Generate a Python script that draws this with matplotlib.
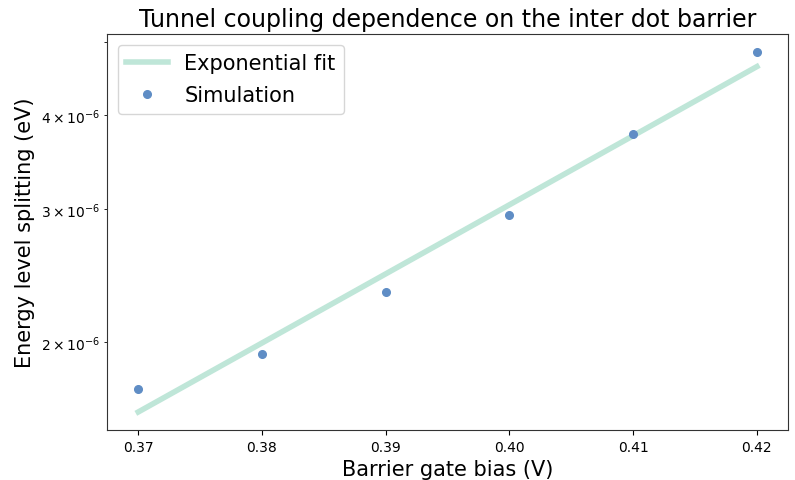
import matplotlib
matplotlib.use("Agg")
import matplotlib.pyplot as plt

bias = [0.37, 0.38, 0.39, 0.40, 0.41, 0.42]
splitting = [1.733e-6, 1.928e-6, 2.33e-6, 2.946e-6, 3.775e-6, 4.85e-6]
fit_values = [1.614e-6, 1.993e-6, 2.462e-6, 3.041e-6, 3.756e-6, 4.64e-6]

fig, ax = plt.subplots(figsize=(7.95, 4.81), dpi=100)
ax.plot(bias, fit_values, color="#bfe6d8", linewidth=4, label="Exponential fit")
ax.plot(bias, splitting, "o", color="#5f8dc5", markersize=5.5, label="Simulation")
ax.set_yscale("log")
ax.set_title("Tunnel coupling dependence on the inter dot barrier", fontsize=17)
ax.set_xlabel("Barrier gate bias (V)", fontsize=15)
ax.set_ylabel("Energy level splitting (eV)", fontsize=15)
ax.set_xticks(bias)
ax.set_xticklabels(["0.37", "0.38", "0.39", "0.40", "0.41", "0.42"])
for s in ax.spines.values():
    s.set_color("#333333")
ax.legend(loc="upper left", fontsize=15, labelspacing=0.6)
fig.subplots_adjust(left=0.135, right=0.991, top=0.927, bottom=0.104)
fig.savefig("out.png", dpi=100)
